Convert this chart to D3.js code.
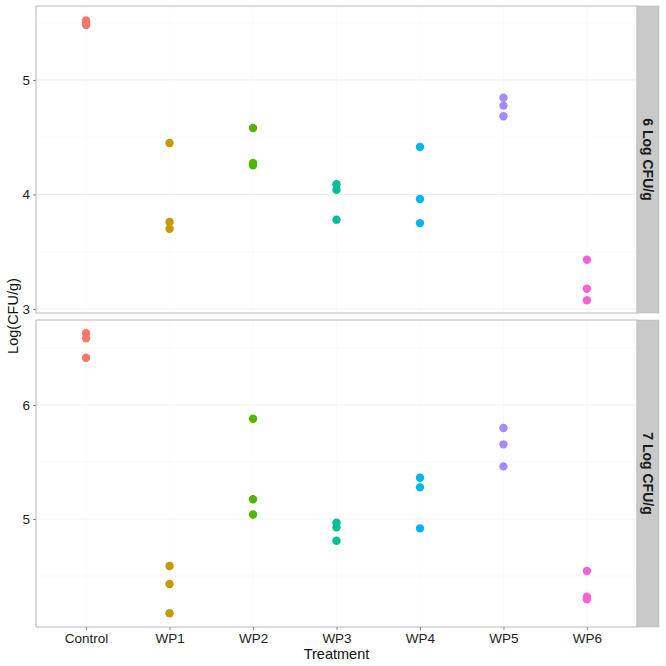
<!DOCTYPE html>
<html><head><meta charset="utf-8">
<script src="https://cdn.jsdelivr.net/npm/d3@7"></script>
<style>body{margin:0;background:#fff}svg{display:block;font-family:"Liberation Sans",Arial,sans-serif}</style>
</head><body><svg id="c" width="666" height="666"></svg>
<script>
const categories = ["Control","WP1","WP2","WP3","WP4","WP5","WP6"];
const colors = ["#F8766D","#C49A00","#53B400","#00C094","#00B6EB","#A58AFF","#FB61D7"];
const facets = ["6 Log CFU/g","7 Log CFU/g"];
const values6 = [
  [5.52,5.50,5.48],
  [4.45,3.76,3.70],
  [4.58,4.275,4.255],
  [4.09,4.04,3.78],
  [4.415,3.96,3.75],
  [4.845,4.776,4.683],
  [3.43,3.177,3.076]
];
const values7 = [
  [6.63,6.585,6.415],
  [4.588,4.43,4.173],
  [5.88,5.173,5.04],
  [4.968,4.927,4.81],
  [5.362,5.278,4.918],
  [5.798,5.655,5.462],
  [4.544,4.319,4.296]
];
const yDomain6 = [2.965,5.646];
const yDomain7 = [4.053,6.746];
const yTicks6 = [3,4,5];
const yTicks7 = [5,6];
const yMinor6 = [3.5,4.5,5.5];
const yMinor7 = [4.5,5.5,6.5];

const svg = d3.select("#c");
const L = 36, R = 637, stripW = 22;
const panels = [
  {top:6, bottom:313, dom:yDomain6, vals:values6, ticks:yTicks6, minor:yMinor6, label:facets[0]},
  {top:320, bottom:627, dom:yDomain7, vals:values7, ticks:yTicks7, minor:yMinor7, label:facets[1]}
];
const x = d3.scalePoint().domain(categories).range([L,R]).padding(0.6);

panels.forEach((p,i)=>{
  const y = d3.scaleLinear().domain(p.dom).range([p.bottom,p.top]);
  const g = svg.append("g");
  g.append("rect").attr("x",L).attr("y",p.top).attr("width",R-L).attr("height",p.bottom-p.top).attr("fill","#fff");
  g.selectAll(".mn").data(p.minor).enter().append("line")
    .attr("x1",L).attr("x2",R).attr("y1",d=>y(d)).attr("y2",d=>y(d))
    .attr("stroke","#f5f5f5").attr("stroke-width",0.6);
  g.selectAll(".mj").data(p.ticks).enter().append("line")
    .attr("x1",L).attr("x2",R).attr("y1",d=>y(d)).attr("y2",d=>y(d))
    .attr("stroke","#efefef").attr("stroke-width",1);
  g.selectAll(".vg").data(categories).enter().append("line")
    .attr("x1",d=>x(d)).attr("x2",d=>x(d)).attr("y1",p.top).attr("y2",p.bottom)
    .attr("stroke","#f7f7f7").attr("stroke-width",0.6);
  p.vals.forEach((arr,ci)=>{
    g.selectAll(null).data(arr).enter().append("circle")
      .attr("cx",x(categories[ci])).attr("cy",d=>y(d)).attr("r",4.2)
      .attr("fill",colors[ci]);
  });
  g.append("rect").attr("x",L).attr("y",p.top).attr("width",R-L).attr("height",p.bottom-p.top)
    .attr("fill","none").attr("stroke","#b8b8b8").attr("stroke-width",1);
  const ya = d3.axisLeft(y).tickValues(p.ticks).tickSize(3).tickPadding(3).tickFormat(d3.format("d"));
  const yg = g.append("g").attr("transform",`translate(${L},0)`).call(ya);
  yg.select(".domain").remove();
  yg.selectAll(".tick line").attr("stroke","#888");
  yg.selectAll("text").attr("font-size",13.5).attr("fill","#222").style("font-family","Liberation Sans, Arial, sans-serif");
  g.append("rect").attr("x",R).attr("y",p.top).attr("width",stripW).attr("height",p.bottom-p.top)
    .attr("fill","#c9c9c9").attr("stroke","#b8b8b8").attr("stroke-width",0.5);
  g.append("text").attr("transform",`translate(${R+stripW/2},${(p.top+p.bottom)/2}) rotate(90)`)
    .attr("text-anchor","middle").attr("dy","0.35em").attr("font-size",14).attr("font-weight","bold")
    .attr("fill","#1a1a1a").text(p.label);
  if(i===1){
    const xa = d3.axisBottom(x).tickSize(3).tickPadding(3);
    const xg = g.append("g").attr("transform",`translate(0,${p.bottom})`).call(xa);
    xg.select(".domain").remove();
    xg.selectAll(".tick line").attr("stroke","#888");
    xg.selectAll("text").attr("font-size",13.5).attr("fill","#222").style("font-family","Liberation Sans, Arial, sans-serif");
  }
});
svg.append("text").attr("x",(L+R)/2).attr("y",659).attr("text-anchor","middle")
  .attr("font-size",14.5).attr("fill","#111").text("Treatment");
svg.append("text").attr("transform",`translate(18,316) rotate(-90)`).attr("text-anchor","middle")
  .attr("font-size",14.5).attr("fill","#111").text("Log(CFU/g)");
</script></body></html>
